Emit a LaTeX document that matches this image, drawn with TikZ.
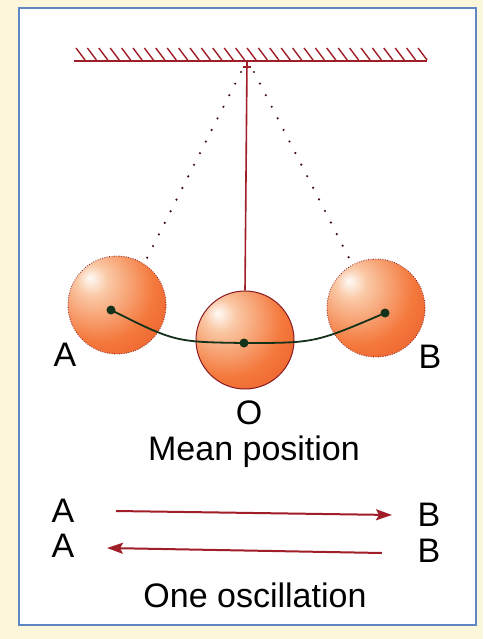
\documentclass[tikz,border=0pt]{standalone}
\usepackage{fontspec}
\setmainfont{Liberation Sans}
\usetikzlibrary{arrows.meta}
\definecolor{paper}{RGB}{252,247,218}
\definecolor{frameblue}{RGB}{95,135,195}
\definecolor{rodred}{RGB}{160,30,40}
\definecolor{arcgreen}{RGB}{20,50,25}
\definecolor{orbhi}{RGB}{250,200,165}
\definecolor{orbmid}{RGB}{244,120,60}
\definecolor{orbedge}{RGB}{230,82,35}
\pgfdeclareradialshading{orb}{\pgfpoint{-14bp}{14bp}}{%
  color(0bp)=(white!92!orbhi); color(8bp)=(orbhi); color(28bp)=(orbmid);
  color(50bp)=(orbedge); color(80bp)=(orbedge)}
\tikzset{
  lbl/.style={font=\fontsize{34}{38}\selectfont, inner sep=0pt, anchor=base},
  bob/.style={circle, minimum size=98pt, inner sep=0pt, shading=orb},
  ghost/.style={bob, draw=rodred!80!black, line width=0.8pt,
    dash pattern=on 0.8pt off 1.6pt},
  dotstring/.style={draw=rodred!40!black, line width=2.4pt, line cap=round,
    dash pattern=on 0pt off 13pt},
  pin/.style={circle, fill=arcgreen, inner sep=0pt, minimum size=9pt},
  motion/.style={draw=rodred, line width=2pt,
    -{Stealth[length=16pt,width=11pt,inset=3pt]}},
}
\begin{document}
\begin{tikzpicture}[x=1pt,y=-1pt]
  % page and frame
  \fill[paper] (0,0) rectangle (483,639);
  \useasboundingbox (0,0) rectangle (483,639);
  \draw[fill=white, draw=frameblue, line width=1.3pt] (19,8) rectangle (476,625);

  % ceiling with hatching
  \coordinate (cl) at (74,61);
  \coordinate (cr) at (427,61);
  \draw[rodred, line width=2pt] (cl) -- (cr);
  \foreach \i in {0,...,30}
    \draw[rodred, line width=1.4pt] (76+11.4*\i,48) -- ++(9,12);

  % pivot
  \coordinate (pivot) at (247,62);
  \draw[rodred, line width=1.4pt] (243,67) -- (251,67);

  % bobs
  \node[ghost] (bobA) at (117,305) {};
  \node[ghost] (bobB) at (376,308) {};
  \node[bob, draw=rodred!85!black, line width=1pt] (bobO) at (245,340) {};

  % strings
  \draw[rodred, line width=1.6pt] (pivot) -- (bobO.north);
  \draw[dotstring] (241,72) -- (147,258);
  \draw[dotstring] (254,72) -- (350,260);

  % path of the bob
  \node[pin] (pA) at (111,310) {};
  \node[pin] (pO) at (244,343) {};
  \node[pin] (pB) at (385,313) {};
  \draw[arcgreen, line width=1.8pt] (pA.center) .. controls (175,342) .. (pO.center)
    .. controls (315,343) .. (pB.center);

  % labels
  \node[lbl] (tA) at (65,366) {A};
  \node[lbl] (tB) at (430,368) {B};
  \node[lbl] (tO) at (249,424) {O};
  \node[lbl] (mean) at (254,460) {Mean position};

  % one oscillation
  \node[lbl] (a1) at (63,522) {A};
  \node[lbl] (b1) at (429,526) {B};
  \node[lbl] (a2) at (63,557) {A};
  \node[lbl] (b2) at (429,562) {B};
  \draw[motion] ([xshift=53pt,yshift=11pt]a1.base) -- ([xshift=-37pt,yshift=11pt]b1.base);
  \draw[motion] ([xshift=-47pt,yshift=9pt]b2.base) -- ([xshift=44pt,yshift=9pt]a2.base);
  \node[lbl] (osc) at (255,607) {One oscillation};
\end{tikzpicture}
\end{document}
